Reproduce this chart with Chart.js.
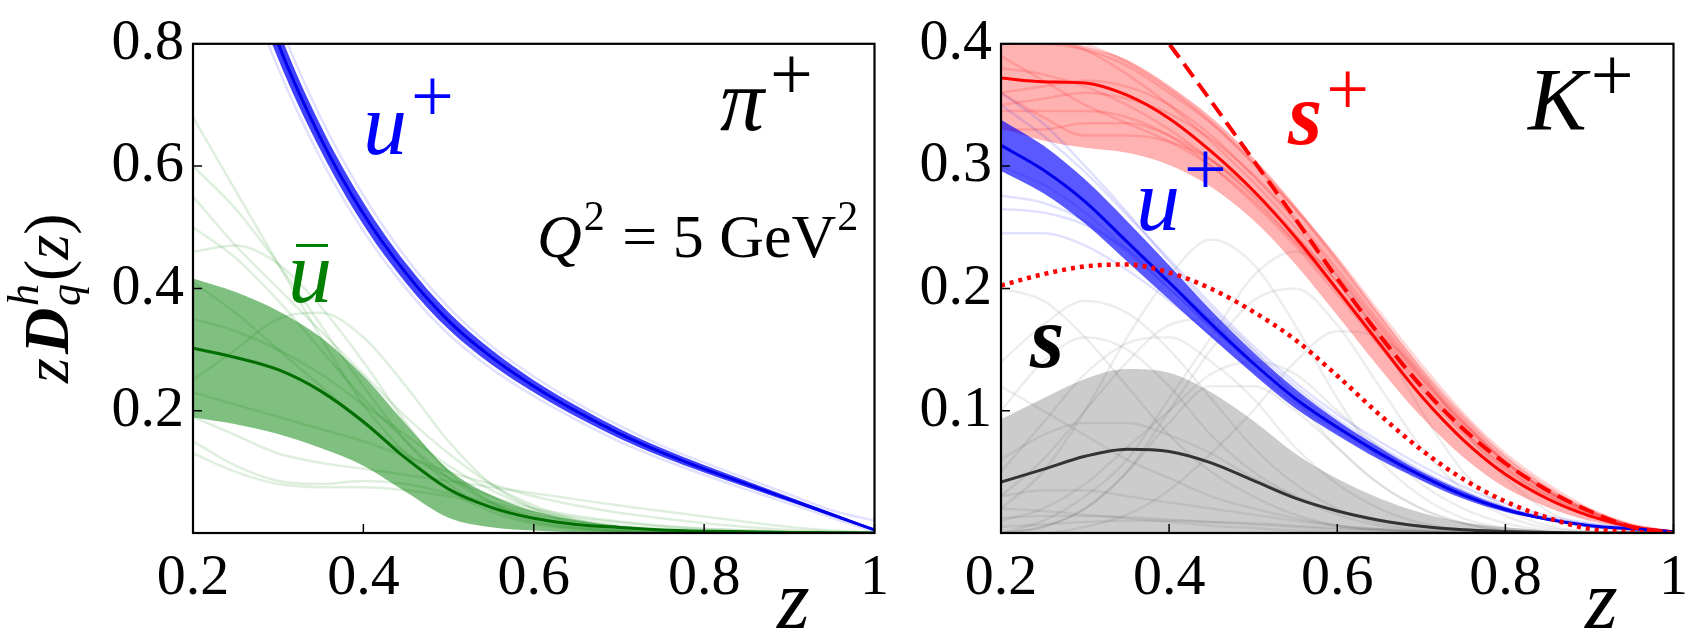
<!DOCTYPE html>
<html>
<head>
<meta charset="utf-8">
<script src="https://cdn.jsdelivr.net/npm/chart.js@4.4.1/dist/chart.umd.min.js"></script>
<style>
html, body { margin: 0; padding: 0; background: #fff; }
#wrap { position: relative; width: 1699px; height: 633px; }
#pion { position: absolute; left: 0; top: 0; }
#kaon { position: absolute; left: 900px; top: 0; }
</style>
</head>
<body>
<div id="wrap">
  <canvas id="pion" width="900" height="633"></canvas>
  <canvas id="kaon" width="799" height="633"></canvas>
</div>
<script>
// z grid shared by every curve
var zGrid = [0.2, 0.25, 0.3, 0.35, 0.4, 0.45, 0.5, 0.55, 0.6, 0.65, 0.7, 0.75, 0.8, 0.85, 0.9, 0.95, 1.0];

var xTicks = [0.2, 0.4, 0.6, 0.8, 1];
var xTickLabels = ['0.2', '0.4', '0.6', '0.8', '1'];
var yTicksPi = [0.2, 0.4, 0.6, 0.8];
var yTickLabelsPi = ['0.2', '0.4', '0.6', '0.8'];
var yTicksK = [0.1, 0.2, 0.3, 0.4];
var yTickLabelsK = ['0.1', '0.2', '0.3', '0.4'];

// ---- pi+ panel ----
var uPlusPi   = [1.25, 1.0, 0.80, 0.645, 0.522, 0.425, 0.347, 0.288, 0.240, 0.199, 0.163, 0.132, 0.105, 0.080, 0.055, 0.030, 0.005];
var uPlusPiHi = [1.29, 1.035, 0.825, 0.666, 0.541, 0.441, 0.361, 0.300, 0.250, 0.208, 0.171, 0.139, 0.111, 0.085, 0.059, 0.033, 0.007];
var uPlusPiLo = [1.21, 0.965, 0.775, 0.625, 0.504, 0.409, 0.333, 0.276, 0.230, 0.190, 0.155, 0.125, 0.099, 0.075, 0.051, 0.027, 0.003];
var uPlusPiReps = [
  [1.32, 1.055, 0.84, 0.679, 0.552, 0.45, 0.369, 0.306, 0.256, 0.213, 0.176, 0.143, 0.115, 0.089, 0.063, 0.037, 0.02],
  [1.18, 0.945, 0.76, 0.612, 0.494, 0.40, 0.325, 0.269, 0.224, 0.185, 0.150, 0.121, 0.095, 0.071, 0.048, 0.025, 0.002]
];

var ubarPi   = [0.302, 0.287, 0.267, 0.232, 0.182, 0.122, 0.072, 0.042, 0.024, 0.014, 0.009, 0.005, 0.003, 0.002, 0.001, 0.0005, 0];
var ubarPiHi = [0.416, 0.394, 0.363, 0.320, 0.257, 0.178, 0.104, 0.062, 0.036, 0.021, 0.012, 0.007, 0.004, 0.002, 0.001, 0.0005, 0];
var ubarPiLo = [0.189, 0.178, 0.162, 0.139, 0.110, 0.067, 0.025, 0.0095, 0.004, 0.001, 0, 0, 0, 0, 0, 0, 0];
var ubarPiReps = [
  [0.68, 0.56, 0.44, 0.32, 0.21, 0.13, 0.07, 0.035, 0.015, 0.006, 0.002, 0, 0, 0, 0, 0, 0],
  [0.60, 0.53, 0.44, 0.34, 0.24, 0.15, 0.08, 0.04, 0.018, 0.008, 0.003, 0.001, 0, 0, 0, 0, 0],
  [0.46, 0.47, 0.44, 0.37, 0.28, 0.18, 0.10, 0.05, 0.02, 0.008, 0.003, 0, 0, 0, 0, 0, 0],
  [0.25, 0.30, 0.35, 0.36, 0.32, 0.24, 0.15, 0.08, 0.04, 0.015, 0.005, 0, 0, 0, 0, 0, 0],
  [0.19, 0.16, 0.13, 0.115, 0.105, 0.095, 0.085, 0.075, 0.065, 0.055, 0.045, 0.036, 0.027, 0.018, 0.010, 0.004, 0],
  [0.15, 0.11, 0.085, 0.08, 0.085, 0.08, 0.065, 0.05, 0.035, 0.025, 0.017, 0.011, 0.007, 0.004, 0.002, 0.001, 0],
  [0.13, 0.10, 0.08, 0.075, 0.075, 0.07, 0.06, 0.045, 0.03, 0.02, 0.012, 0.007, 0.004, 0.002, 0.001, 0, 0],
  [0.41, 0.36, 0.30, 0.24, 0.18, 0.13, 0.09, 0.06, 0.04, 0.028, 0.019, 0.012, 0.007, 0.004, 0.002, 0.001, 0],
  [0.50, 0.45, 0.38, 0.30, 0.22, 0.15, 0.09, 0.05, 0.025, 0.01, 0.004, 0.001, 0, 0, 0, 0, 0],
  [0.55, 0.47, 0.40, 0.33, 0.26, 0.19, 0.13, 0.08, 0.045, 0.022, 0.01, 0.004, 0.001, 0, 0, 0, 0],
  [0.23, 0.21, 0.19, 0.17, 0.15, 0.125, 0.10, 0.08, 0.06, 0.045, 0.033, 0.024, 0.016, 0.01, 0.005, 0.002, 0],
  [0.35, 0.33, 0.30, 0.26, 0.21, 0.16, 0.11, 0.07, 0.04, 0.02, 0.01, 0.004, 0.001, 0, 0, 0, 0]
];

// ---- K+ panel ----
var sPlusK   = [0.372, 0.369, 0.368, 0.358, 0.339, 0.312, 0.280, 0.242, 0.199, 0.155, 0.112, 0.076, 0.048, 0.028, 0.014, 0.005, 0.001];
var sPlusKHi = [0.41, 0.405, 0.398, 0.387, 0.366, 0.340, 0.307, 0.268, 0.225, 0.179, 0.135, 0.096, 0.063, 0.038, 0.019, 0.007, 0.001];
var sPlusKLo = [0.331, 0.321, 0.315, 0.311, 0.301, 0.283, 0.256, 0.220, 0.178, 0.135, 0.095, 0.062, 0.037, 0.021, 0.010, 0.004, 0.001];
var sPlusKReps = [
  [0.345, 0.345, 0.345, 0.34, 0.325, 0.30, 0.27, 0.235, 0.195, 0.153, 0.112, 0.077, 0.048, 0.028, 0.014, 0.005, 0.001],
  [0.40, 0.40, 0.395, 0.382, 0.36, 0.335, 0.302, 0.265, 0.225, 0.181, 0.138, 0.098, 0.065, 0.04, 0.02, 0.007, 0.001],
  [0.38, 0.375, 0.365, 0.35, 0.33, 0.305, 0.277, 0.243, 0.205, 0.165, 0.125, 0.088, 0.057, 0.034, 0.018, 0.006, 0.001],
  [0.33, 0.33, 0.335, 0.335, 0.325, 0.305, 0.275, 0.238, 0.198, 0.157, 0.117, 0.081, 0.051, 0.03, 0.015, 0.005, 0.001],
  [0.41, 0.405, 0.395, 0.375, 0.35, 0.32, 0.287, 0.25, 0.21, 0.168, 0.127, 0.09, 0.058, 0.034, 0.017, 0.006, 0.001],
  [0.36, 0.365, 0.37, 0.365, 0.35, 0.325, 0.292, 0.255, 0.213, 0.17, 0.128, 0.09, 0.058, 0.034, 0.017, 0.006, 0.001],
  [0.36, 0.34, 0.325, 0.325, 0.32, 0.305, 0.28, 0.245, 0.205, 0.163, 0.122, 0.085, 0.054, 0.032, 0.016, 0.005, 0.001],
  [0.39, 0.37, 0.35, 0.335, 0.32, 0.30, 0.272, 0.238, 0.20, 0.16, 0.12, 0.083, 0.053, 0.031, 0.015, 0.005, 0.001],
  [0.415, 0.41, 0.40, 0.385, 0.363, 0.336, 0.303, 0.265, 0.222, 0.178, 0.135, 0.096, 0.063, 0.038, 0.019, 0.007, 0.001],
  [0.35, 0.355, 0.36, 0.355, 0.343, 0.322, 0.293, 0.257, 0.216, 0.173, 0.131, 0.092, 0.059, 0.035, 0.018, 0.006, 0.001]
];
var sPlusKDashed = [0.565, 0.528, 0.488, 0.445, 0.40, 0.353, 0.305, 0.257, 0.208, 0.162, 0.12, 0.085, 0.057, 0.035, 0.018, 0.005, 0];
var sPlusKDotted = [0.2024, 0.2116, 0.218, 0.2195, 0.213, 0.1997, 0.181, 0.158, 0.1286, 0.097, 0.068, 0.044, 0.0258, 0.0126, 0.0034, 0.001, 0];

var uPlusK   = [0.317, 0.297, 0.271, 0.238, 0.205, 0.171, 0.139, 0.110, 0.0864, 0.0653, 0.0469, 0.031, 0.0192, 0.0113, 0.006, 0.0034, 0.001];
var uPlusKHi = [0.338, 0.317, 0.289, 0.255, 0.219, 0.182, 0.148, 0.118, 0.092, 0.070, 0.050, 0.034, 0.021, 0.012, 0.0068, 0.0038, 0.0012];
var uPlusKLo = [0.296, 0.278, 0.253, 0.222, 0.191, 0.160, 0.130, 0.102, 0.080, 0.060, 0.043, 0.028, 0.0172, 0.0104, 0.0054, 0.003, 0.0008];
var uPlusKReps = [
  [0.276, 0.27, 0.255, 0.23, 0.20, 0.168, 0.137, 0.108, 0.085, 0.064, 0.046, 0.031, 0.019, 0.011, 0.006, 0.003, 0.001],
  [0.245, 0.245, 0.235, 0.215, 0.19, 0.162, 0.133, 0.106, 0.083, 0.063, 0.045, 0.03, 0.019, 0.011, 0.006, 0.003, 0.001],
  [0.36, 0.335, 0.30, 0.262, 0.222, 0.184, 0.150, 0.12, 0.093, 0.071, 0.051, 0.034, 0.021, 0.012, 0.007, 0.004, 0.001],
  [0.30, 0.285, 0.262, 0.232, 0.20, 0.168, 0.138, 0.11, 0.087, 0.066, 0.048, 0.032, 0.02, 0.012, 0.006, 0.003, 0.001],
  [0.265, 0.262, 0.252, 0.232, 0.205, 0.174, 0.143, 0.114, 0.09, 0.069, 0.05, 0.034, 0.021, 0.012, 0.007, 0.004, 0.001],
  [0.35, 0.325, 0.295, 0.26, 0.224, 0.187, 0.153, 0.123, 0.097, 0.075, 0.055, 0.038, 0.024, 0.014, 0.008, 0.004, 0.001]
];

var sK   = [0.0416, 0.052, 0.0627, 0.0685, 0.0667, 0.0574, 0.043, 0.0285, 0.018, 0.0105, 0.0055, 0.0026, 0.0013, 0.0005, 0, 0, 0];
var sKHi = [0.093, 0.110, 0.126, 0.134, 0.131, 0.115, 0.0917, 0.065, 0.0443, 0.0285, 0.0166, 0.0087, 0.0047, 0.002, 0.0008, 0, 0];
var sKLo = [0, 0, 0, 0, 0, 0, 0, 0, 0, 0, 0, 0, 0, 0, 0, 0, 0];
var sKReps = [
  [0.02, 0.05, 0.10, 0.16, 0.21, 0.24, 0.22, 0.17, 0.11, 0.06, 0.03, 0.012, 0.004, 0.001, 0, 0, 0],
  [0, 0.01, 0.03, 0.06, 0.11, 0.16, 0.21, 0.23, 0.21, 0.16, 0.10, 0.05, 0.02, 0.006, 0.001, 0, 0],
  [0.10, 0.14, 0.16, 0.15, 0.12, 0.08, 0.05, 0.03, 0.015, 0.006, 0.002, 0, 0, 0, 0, 0, 0],
  [0.05, 0.09, 0.13, 0.155, 0.16, 0.14, 0.11, 0.07, 0.04, 0.02, 0.008, 0.003, 0.001, 0, 0, 0, 0],
  [0.20, 0.19, 0.16, 0.12, 0.08, 0.05, 0.03, 0.015, 0.006, 0.002, 0, 0, 0, 0, 0, 0, 0],
  [0.14, 0.17, 0.19, 0.18, 0.15, 0.11, 0.07, 0.04, 0.02, 0.008, 0.003, 0.001, 0, 0, 0, 0, 0],
  [0.01, 0.02, 0.04, 0.07, 0.10, 0.13, 0.14, 0.13, 0.10, 0.07, 0.04, 0.02, 0.008, 0.002, 0, 0, 0],
  [0.03, 0.035, 0.035, 0.03, 0.025, 0.02, 0.015, 0.01, 0.006, 0.003, 0.001, 0, 0, 0, 0, 0, 0],
  [0.06, 0.08, 0.09, 0.09, 0.08, 0.065, 0.045, 0.03, 0.018, 0.01, 0.005, 0.002, 0, 0, 0, 0, 0],
  [0, 0.005, 0.02, 0.05, 0.09, 0.12, 0.12, 0.10, 0.07, 0.04, 0.02, 0.008, 0.002, 0, 0, 0, 0],
  [0.12, 0.10, 0.08, 0.06, 0.045, 0.03, 0.02, 0.012, 0.006, 0.003, 0.001, 0, 0, 0, 0, 0, 0],
  [0, 0.005, 0.02, 0.05, 0.10, 0.15, 0.19, 0.20, 0.17, 0.12, 0.07, 0.035, 0.014, 0.004, 0.001, 0, 0],
  [0, 0, 0.005, 0.015, 0.035, 0.065, 0.10, 0.14, 0.165, 0.16, 0.13, 0.085, 0.045, 0.018, 0.005, 0.001, 0],
  [0.03, 0.06, 0.10, 0.14, 0.17, 0.175, 0.15, 0.11, 0.07, 0.04, 0.02, 0.008, 0.002, 0, 0, 0, 0],
  [0.02, 0.018, 0.015, 0.012, 0.009, 0.006, 0.004, 0.002, 0.001, 0, 0, 0, 0, 0, 0, 0, 0],
  [0.012, 0.014, 0.014, 0.013, 0.011, 0.009, 0.007, 0.005, 0.003, 0.002, 0.001, 0, 0, 0, 0, 0, 0],
  [0.005, 0.007, 0.009, 0.01, 0.01, 0.009, 0.008, 0.006, 0.004, 0.003, 0.002, 0.001, 0, 0, 0, 0, 0]
];

var SERIF = "'Liberation Serif'";

function pts(arr) {
  return zGrid.map(function (z, i) { return { x: z, y: arr[i] }; });
}

function curve(arr, color, width, order, dash) {
  return { data: pts(arr), borderColor: color, borderWidth: width, borderDash: dash || [],
           fill: false, order: order, clip: 0 };
}

function band(list, lo, hi, color, order) {
  list.push({ data: pts(lo), borderWidth: 0, borderColor: 'rgba(0,0,0,0)', fill: false, order: order, clip: 0 });
  list.push({ data: pts(hi), borderWidth: 0, borderColor: 'rgba(0,0,0,0)', fill: '-1',
              backgroundColor: color, order: order, clip: 0 });
}

// draws a run of text pieces (italic letters, superscripts...) from x along the baseline y
function drawParts(ctx, x, y, parts, color) {
  ctx.fillStyle = color;
  ctx.textAlign = 'left';
  ctx.textBaseline = 'alphabetic';
  var cx = x, prevStart = x;
  parts.forEach(function (p) {
    ctx.font = p.f;
    var sx = (p.stack ? prevStart : cx) + (p.dx || 0);
    ctx.fillText(p.t, sx, y + (p.dy || 0));
    var w = ctx.measureText(p.t).width;
    if (p.stack) { cx = Math.max(cx, sx + w); } else { prevStart = sx; cx = sx + w; }
  });
}

function decoPlugin(ox, yTicks, labels) {
  return {
    id: 'deco',
    afterDraw: function (chart) {
      var ctx = chart.ctx, a = chart.chartArea;
      var xs = chart.scales.x, ys = chart.scales.y;
      ctx.save();
      ctx.strokeStyle = '#000';
      ctx.lineWidth = 1.5;
      ctx.beginPath();
      xTicks.forEach(function (v) {
        var px = xs.getPixelForValue(v);
        ctx.moveTo(px, a.bottom); ctx.lineTo(px, a.bottom - 9);
      });
      yTicks.forEach(function (v) {
        var py = ys.getPixelForValue(v);
        ctx.moveTo(a.left, py); ctx.lineTo(a.left + 9, py);
      });
      ctx.stroke();
      ctx.lineWidth = 2.2;
      ctx.strokeRect(a.left, a.top, a.right - a.left, a.bottom - a.top);
      labels.forEach(function (l) {
        drawParts(ctx, l.x - ox, l.y, l.parts, l.color);
        if (l.bar) {
          ctx.fillStyle = l.color;
          ctx.fillRect(l.bar[0] - ox, l.bar[1], l.bar[2], 3);
        }
      });
      // x axis title
      drawParts(ctx, (ox === 0 ? 777 : 1585) - ox, 628, [{ t: 'z', f: 'italic 84px ' + SERIF }], '#000');
      if (ox === 0) {
        ctx.save();
        ctx.translate(68, 383);
        ctx.rotate(-Math.PI / 2);
        drawParts(ctx, 0, 0, [
          { t: 'z', f: 'italic 64px ' + SERIF },
          { t: 'D', f: 'bold italic 64px ' + SERIF, dx: 4 },
          { t: 'h', f: 'italic 44px ' + SERIF, dy: -30, dx: 2 },
          { t: 'q', f: 'italic 44px ' + SERIF, dy: 12, stack: true },
          { t: '(', f: '64px ' + SERIF, dx: 3 },
          { t: 'z', f: 'italic 64px ' + SERIF },
          { t: ')', f: '64px ' + SERIF }
        ], '#000');
        ctx.restore();
      }
      ctx.restore();
    }
  };
}

function makeScales(yMax, yTicks, yLabels, yWidth) {
  return {
    x: {
      type: 'linear', min: 0.2, max: 1,
      afterBuildTicks: function (s) { s.ticks = xTicks.map(function (v) { return { value: v }; }); },
      afterFit: function (s) { s.height = 100; },
      grid: { display: false, drawTicks: false },
      border: { display: false },
      ticks: {
        autoSkip: false, maxRotation: 0, padding: 11, color: '#000',
        font: { family: SERIF, size: 58 },
        callback: function (v, i) { return xTickLabels[i]; }
      }
    },
    y: {
      type: 'linear', min: 0, max: yMax,
      afterBuildTicks: function (s) { s.ticks = yTicks.map(function (v) { return { value: v }; }); },
      afterFit: function (s) { s.width = yWidth; },
      grid: { display: false, drawTicks: false },
      border: { display: false },
      ticks: {
        autoSkip: false, padding: 9, color: '#000',
        font: { family: SERIF, size: 58 },
        callback: function (v, i) { return yLabels[i]; }
      }
    }
  };
}

function baseOptions(yMax, yTicks, yLabels, yWidth, padRight) {
  return {
    responsive: false,
    animation: false,
    layout: { padding: { left: 0, right: padRight, top: 27, bottom: 0 } },
    elements: { point: { radius: 0 }, line: { cubicInterpolationMode: 'monotone' } },
    plugins: { legend: { display: false }, tooltip: { enabled: false } },
    scales: makeScales(yMax, yTicks, yLabels, yWidth)
  };
}

var ITAL = 'italic 88px ' + SERIF;
var SUP = '76px ' + SERIF;

// ---------- pi+ chart ----------
var piSets = [];
ubarPiReps.forEach(function (r) { piSets.push(curve(r, 'rgba(0,128,0,0.13)', 2.5, 50)); });
band(piSets, ubarPiLo, ubarPiHi, 'rgba(0,128,0,0.5)', 40);
piSets.push(curve(ubarPi, 'rgb(0,110,0)', 3, 30));
uPlusPiReps.forEach(function (r) { piSets.push(curve(r, 'rgba(0,0,255,0.12)', 2.5, 25)); });
band(piSets, uPlusPiLo, uPlusPiHi, 'rgba(0,0,255,0.75)', 20);
piSets.push(curve(uPlusPi, 'rgb(0,0,235)', 3, 10));

new Chart(document.getElementById('pion'), {
  type: 'line',
  data: { datasets: piSets },
  options: baseOptions(0.8, yTicksPi, yTickLabelsPi, 193, 20),
  plugins: [decoPlugin(0, yTicksPi, [
    { x: 363, y: 154, color: '#0000ff', parts: [{ t: 'u', f: ITAL }, { t: '+', f: SUP, dy: -33, dx: 4 }] },
    { x: 720, y: 130, color: '#000', parts: [{ t: 'π', f: ITAL }, { t: '+', f: SUP, dy: -31, dx: 6 }] },
    { x: 288, y: 302, color: '#008000', parts: [{ t: 'u', f: ITAL }], bar: [296, 244, 32] },
    { x: 537, y: 257, color: '#000', parts: [
      { t: 'Q', f: 'italic 62px ' + SERIF },
      { t: '2', f: '42px ' + SERIF, dy: -27, dx: 2 },
      { t: ' = 5 GeV', f: '62px ' + SERIF, dx: 2 },
      { t: '2', f: '42px ' + SERIF, dy: -27, dx: 1 }
    ] }
  ])]
});

// ---------- K+ chart ----------
var kSets = [];
sKReps.forEach(function (r) { kSets.push(curve(r, 'rgba(0,0,0,0.07)', 2.5, 90)); });
band(kSets, sKLo, sKHi, 'rgba(0,0,0,0.2)', 85);
kSets.push(curve(sK, '#333333', 3, 80));
sPlusKReps.forEach(function (r) { kSets.push(curve(r, 'rgba(255,0,0,0.15)', 2.5, 70)); });
band(kSets, sPlusKLo, sPlusKHi, 'rgba(255,0,0,0.3)', 65);
kSets.push(curve(sPlusK, 'rgb(255,0,0)', 3, 60));
uPlusKReps.forEach(function (r) { kSets.push(curve(r, 'rgba(0,0,255,0.12)', 2.5, 50)); });
band(kSets, uPlusKLo, uPlusKHi, 'rgba(0,0,255,0.65)', 45);
kSets.push(curve(uPlusK, 'rgb(0,0,235)', 3, 40));
kSets.push(curve(sPlusKDotted, 'rgb(255,0,0)', 4.5, 20, [4, 5]));
kSets.push(curve(sPlusKDashed, 'rgb(255,0,0)', 4, 10, [16, 8]));

new Chart(document.getElementById('kaon'), {
  type: 'line',
  data: { datasets: kSets },
  options: baseOptions(0.4, yTicksK, yTickLabelsK, 101, 11),
  plugins: [decoPlugin(900, yTicksK, [
    { x: 1528, y: 129, color: '#000', parts: [{ t: 'K', f: ITAL }, { t: '+', f: SUP, dy: -29, dx: 4 }] },
    { x: 1288, y: 144, color: '#ff0000', parts: [{ t: 's', f: 'bold ' + ITAL }, { t: '+', f: SUP, dy: -30, dx: 4 }] },
    { x: 1136, y: 230, color: '#0000ff', parts: [{ t: 'u', f: ITAL }, { t: '+', f: SUP, dy: -36, dx: 4 }] },
    { x: 1030, y: 367, color: '#000', parts: [{ t: 's', f: 'bold ' + ITAL }] }
  ])]
});
</script>
</body>
</html>
